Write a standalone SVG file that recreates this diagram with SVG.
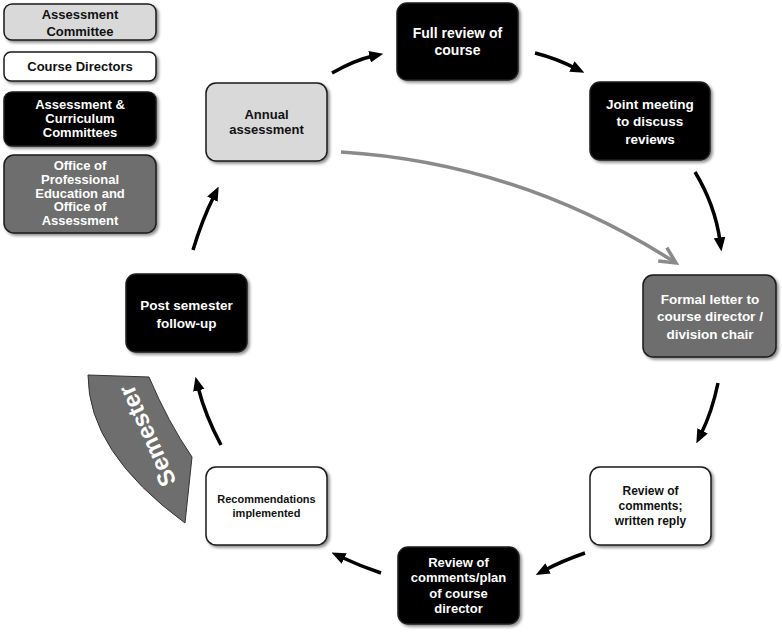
<svg xmlns="http://www.w3.org/2000/svg" width="782" height="633" viewBox="0 0 782 633">
<defs>
<filter id="sh" x="-10%" y="-10%" width="130%" height="130%">
<feDropShadow dx="2" dy="2" stdDeviation="1.5" flood-color="#000" flood-opacity="0.45"/>
</filter>
<marker id="ah" markerUnits="userSpaceOnUse" markerWidth="14" markerHeight="12" viewBox="0 0 12 10" refX="3" refY="5" orient="auto">
<path d="M0,0 L12,5 L0,10 z" fill="#000"/>
</marker>
<marker id="gh" markerUnits="userSpaceOnUse" markerWidth="22" markerHeight="22" viewBox="0 0 22 22" refX="19" refY="11" orient="auto">
<path d="M3,3 L19,11 L3,19" fill="none" stroke="#8a8a8a" stroke-width="3.5" stroke-linejoin="miter"/>
</marker>
<style>
.box{stroke:#1a1a1a;stroke-width:1.5;filter:url(#sh)}
.lg{fill:#d9d9d9}
.wh{fill:#ffffff}
.bk{fill:#000000}
.dg{fill:#6e6e6e}
text{font-family:"Liberation Sans",Arial,sans-serif;font-weight:bold;text-anchor:middle;dominant-baseline:central}
.tb{fill:#111}
.tw{fill:#fff}
.arr{fill:none;stroke:#000;stroke-width:3.5;marker-end:url(#ah)}
</style>
</defs>

<g id="legend-assessment-committee">
<rect class="box lg" x="4" y="4" width="152" height="36" rx="8"/>
<text class="tb" font-size="13" x="80" y="14">Assessment</text>
<text class="tb" font-size="13" x="80" y="31">Committee</text>
</g>
<g id="legend-course-directors">
<rect class="box wh" x="4" y="52" width="152" height="29" rx="7"/>
<text class="tb" font-size="13" x="80" y="66.5">Course Directors</text>
</g>
<g id="legend-committees">
<rect class="box bk" x="4" y="92" width="152" height="54" rx="8"/>
<text class="tw" font-size="13" x="80" y="104">Assessment &amp;</text>
<text class="tw" font-size="13" x="80" y="118">Curriculum</text>
<text class="tw" font-size="13" x="80" y="132">Committees</text>
</g>
<g id="legend-office">
<rect class="box dg" x="4" y="155" width="152" height="78" rx="10"/>
<text class="tw" font-size="13" x="80" y="165">Office of</text>
<text class="tw" font-size="13" x="80" y="179">Professional</text>
<text class="tw" font-size="13" x="80" y="193">Education and</text>
<text class="tw" font-size="13" x="80" y="206.5">Office of</text>
<text class="tw" font-size="13" x="80" y="220">Assessment</text>
</g>

<g id="semester">
<path d="M88,375 L149,377 Q168,422 192,457 L185,523 Q88,452 88,375 Z" fill="#6e6e6e" stroke="#333" stroke-width="1"/>
<text class="tw" font-size="24" transform="translate(147,436) rotate(-114)">Semester</text>
</g>

<g id="connectors">
<path class="arr" d="M332,73 Q355,60 373,56"/>
<path class="arr" d="M535,53 Q555,58 575,68"/>
<path class="arr" d="M695,172 Q715,205 720,241"/>
<path class="arr" d="M718,383 Q712,412 701,434"/>
<path class="arr" d="M585,553 Q562,561 545,570"/>
<path class="arr" d="M381,573 Q360,566 341,557"/>
<path class="arr" d="M221,445 Q205,415 198,387"/>
<path class="arr" d="M193,250 Q202,220 214,196"/>
<path d="M341,152 Q520,163 676,263" fill="none" stroke="#8a8a8a" stroke-width="3.5" marker-end="url(#gh)"/>
</g>

<g id="full-review">
<rect class="box bk" x="397" y="3" width="121" height="77" rx="10"/>
<text class="tw" font-size="14" x="457.5" y="33">Full review of</text>
<text class="tw" font-size="14" x="457.5" y="50">course</text>
</g>
<g id="annual-assessment">
<rect class="box lg" x="206" y="83" width="121" height="78" rx="10"/>
<text class="tb" font-size="13" x="266.5" y="114">Annual</text>
<text class="tb" font-size="13" x="266.5" y="129">assessment</text>
</g>
<g id="joint-meeting">
<rect class="box bk" x="590" y="82" width="120" height="78" rx="10"/>
<text class="tw" font-size="13.5" x="650" y="104">Joint meeting</text>
<text class="tw" font-size="13.5" x="650" y="121.5">to discuss</text>
<text class="tw" font-size="13.5" x="650" y="139">reviews</text>
</g>
<g id="formal-letter">
<rect class="box dg" x="643" y="275" width="133" height="82" rx="10"/>
<text class="tw" font-size="13.5" x="710" y="299">Formal letter to</text>
<text class="tw" font-size="13.5" x="710" y="316.5">course director /</text>
<text class="tw" font-size="13.5" x="710" y="334">division chair</text>
</g>
<g id="written-reply">
<rect class="box wh" x="590" y="467" width="121" height="78" rx="10"/>
<text class="tb" font-size="12" x="650.5" y="491">Review of</text>
<text class="tb" font-size="12" x="650.5" y="506">comments;</text>
<text class="tb" font-size="12" x="650.5" y="521">written reply</text>
</g>
<g id="plan-course-director">
<rect class="box bk" x="398" y="547" width="121" height="77" rx="10"/>
<text class="tw" font-size="13" x="458.5" y="562">Review of</text>
<text class="tw" font-size="13" x="458.5" y="577">comments/plan</text>
<text class="tw" font-size="13" x="458.5" y="593">of course</text>
<text class="tw" font-size="13" x="458.5" y="608">director</text>
</g>
<g id="recommendations">
<rect class="box wh" x="206" y="467" width="121" height="78" rx="10"/>
<text class="tb" font-size="11" x="266.5" y="499">Recommendations</text>
<text class="tb" font-size="11" x="266.5" y="513">implemented</text>
</g>
<g id="post-semester">
<rect class="box bk" x="126" y="274" width="121" height="78" rx="10"/>
<text class="tw" font-size="13.5" x="186.5" y="305">Post semester</text>
<text class="tw" font-size="13.5" x="186.5" y="323">follow-up</text>
</g>
</svg>
